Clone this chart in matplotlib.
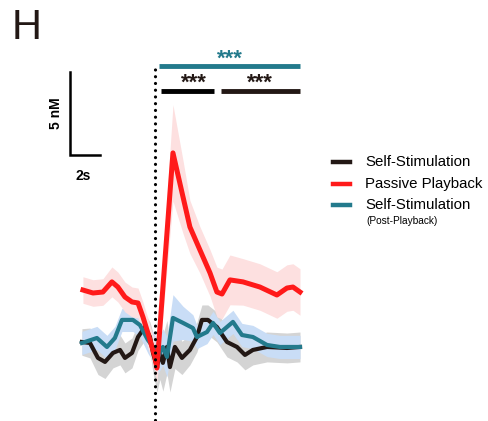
import matplotlib.pyplot as plt
from matplotlib.lines import Line2D

plt.rcParams['font.family'] = ['Liberation Sans', 'DejaVu Sans']

# time (s) relative to stimulation, dopamine (nM)
t_red = [-4.8, -4.13, -3.47, -2.87, -2.47, -2.0, -1.53, -1.13, -0.8, -0.47, 0.0, 0.13,
         1.2, 1.87, 2.33, 3.0, 3.67, 4.13, 4.47, 5.0, 5.87, 7.0, 8.13, 8.8, 9.2, 9.67]
y_red = [3.31, 3.13, 3.19, 3.8, 3.49, 2.89, 2.59, 2.53, 1.69, 0.72, -0.72, -1.39,
         11.57, 8.92, 7.11, 5.72, 4.34, 3.19, 3.07, 3.92, 3.8, 3.49, 3.01, 3.43, 3.49, 3.19]
e_red = [0.8, 0.8, 0.8, 0.9, 0.9, 0.9, 0.9, 0.9, 0.9, 0.9, 0.9, 0.9,
         2.9, 2.2, 1.6, 1.4, 1.4, 1.5, 1.5, 1.5, 1.4, 1.4, 1.4, 1.4, 1.4, 1.4]

t_teal = [-4.87, -3.87, -3.2, -2.67, -2.2, -1.47, -1.0, -0.47, -0.13, 0.2, 0.53, 0.8,
          1.2, 1.87, 2.53, 2.8, 3.47, 3.87, 4.33, 5.2, 5.8, 6.53, 7.47, 8.33, 9.2, 9.67]
y_teal = [0.12, 0.42, -0.12, 0.42, 1.51, 1.51, 1.2, 0.3, -0.12, -0.72, -0.12, -0.72,
          1.63, 1.33, 1.02, 0.48, 0.78, 1.33, 0.72, 1.39, 0.6, 0.48, 0.0, -0.12, -0.12, -0.12]
e_teal = [0.7, 0.7, 0.7, 0.7, 0.7, 0.7, 0.7, 0.8, 0.9, 1.0, 1.1, 1.2,
          1.4, 1.0, 0.8, 0.7, 0.7, 0.7, 0.7, 0.7, 0.7, 0.7, 0.7, 0.7, 0.7, 0.7]

t_blk = [-4.87, -4.33, -3.8, -3.33, -2.8, -2.33, -2.0, -1.53, -1.13, -0.67, -0.33, -0.13,
         0.13, 0.33, 0.53, 0.8, 1.0, 1.33, 1.8, 2.33, 2.8, 3.13, 3.53, 4.13, 4.8, 5.47,
         6.0, 6.53, 7.47, 8.8, 9.67]
y_blk = [0.18, 0.12, -0.78, -1.02, -0.48, -0.3, -0.78, -0.48, 0.48, 1.08, 0.48, -0.48,
         -1.33, -0.48, -1.08, -0.12, -1.33, -0.12, -0.78, -0.3, 0.48, 1.51, 1.51, 1.08, 0.18, -0.12,
         -0.6, -0.3, -0.12, -0.18, -0.12]
e_blk = [0.8, 0.9, 1.0, 1.0, 0.9, 0.9, 0.9, 0.9, 0.8, 0.8, 0.9, 1.2,
         1.5, 1.6, 1.7, 1.6, 1.5, 1.3, 1.0, 0.9, 0.9, 0.9, 0.9, 0.9, 0.9, 0.9,
         0.9, 0.9, 0.9, 0.9, 0.9]

labels = ['Self-Stimulation', 'Passive Playback', 'Self-Stimulation']
colors = ['#231815', '#ff1a1a', '#237a8c']
bands = ['#d4d4d4', '#fde0e0', '#c9ddf6']

fig = plt.figure(figsize=(4.89, 4.21), dpi=100)
ax = fig.add_axes([0, 0, 1, 1])
ax.set_xlim(-10.33, 22.27)
ax.set_ylim(-4.58, 20.78)
ax.axis('off')

def band(t, y, e, c):
    ax.fill_between(t, [a - b for a, b in zip(y, e)], [a + b for a, b in zip(y, e)],
                    color=c, lw=0)

band(t_blk, y_blk, e_blk, bands[0])
band(t_teal, y_teal, e_teal, bands[2])
band(t_red, y_red, e_red, bands[1])
ax.plot(t_blk, y_blk, color=colors[0], lw=3, solid_joinstyle='round')
ax.plot(t_teal, y_teal, color=colors[2], lw=3, solid_joinstyle='round')
ax.plot(t_red, y_red, color=colors[1], lw=3.6, solid_joinstyle='round')

# stimulation onset
ax.plot([0, 0], [-4.52, 16.9], color='black', lw=2.3, linestyle=(0, (0.01, 2.1)),
        dash_capstyle='round')

# significance bars
ax.plot([0.27, 9.67], [16.81, 16.81], color=colors[2], lw=3.5, solid_capstyle='butt')
ax.text(5.0, 16.9, '***', color=colors[2], ha='center', va='baseline', fontsize=16,
        fontweight='bold')
ax.plot([0.4, 3.93], [15.3, 15.3], color='black', lw=3.5, solid_capstyle='butt')
ax.text(2.6, 15.42, '***', color=colors[0], ha='center', va='baseline', fontsize=16,
        fontweight='bold')
ax.plot([4.4, 9.67], [15.3, 15.3], color=colors[0], lw=3.5, solid_capstyle='butt')
ax.text(7.0, 15.42, '***', color=colors[0], ha='center', va='baseline', fontsize=16,
        fontweight='bold')

# scale bar: 2 s, 5 nM
ax.plot([-5.67, -5.67, -3.67], [16.45, 11.45, 11.45], color='black', lw=1.8,
        solid_joinstyle='miter')
ax.text(-6.6, 13.95, '5 nM', rotation=90, ha='center', va='center', fontsize=10,
        fontweight='bold')
ax.text(-4.8, 10.6, '2s', ha='center', va='top', fontsize=10, fontweight='bold')

fig.text(12 / 489, 1 - 28 / 421, 'H', fontsize=30, color='#231815', va='center', ha='left')

# legend
for i, yy in enumerate([162, 184, 205]):
    fig.add_artist(Line2D([333 / 489, 350 / 489], [1 - yy / 421] * 2, color=colors[i],
                          lw=3.2, transform=fig.transFigure))
    fig.text(365 / 489, 1 - yy / 421, labels[i], fontsize=10.8, va='center', ha='left')
fig.text(366 / 489, 1 - 221 / 421, '(Post-Playback)', fontsize=7.3, va='center', ha='left')

fig.savefig('out.png', dpi=100)
